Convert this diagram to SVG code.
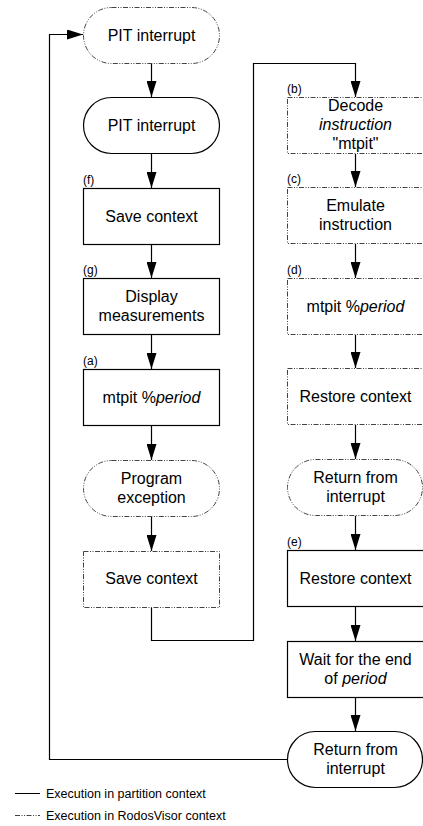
<svg xmlns="http://www.w3.org/2000/svg" width="423" height="826" viewBox="0 0 423 826">
<style>
.n{fill:#fff;stroke:#000;stroke-width:1.2}
.d{fill:#fff;stroke:#444;stroke-width:1;stroke-dasharray:5 1.5 1 1.5 1 1.5}
.t{font-family:"Liberation Sans",Arial,sans-serif;font-size:16px;text-anchor:middle;fill:#000}
.l{font-family:"Liberation Sans",Arial,sans-serif;font-size:12px;fill:#000}
.g{font-family:"Liberation Sans",Arial,sans-serif;font-size:12.5px;fill:#000}
.c{fill:none;stroke:#000;stroke-width:1.2}
</style>
<defs>
<marker id="a" markerWidth="16" markerHeight="10" refX="16" refY="5" orient="auto" markerUnits="userSpaceOnUse" viewBox="0 0 16 10">
<path d="M0,0 L16,5 L0,10 Z" fill="#000"/>
</marker>
</defs>
<g id="connectors">
<path class="c" d="M151.5,63 V97" marker-end="url(#a)"/>
<path class="c" d="M151.5,154 V188" marker-end="url(#a)"/>
<path class="c" d="M151.5,244 V278" marker-end="url(#a)"/>
<path class="c" d="M151.5,335 V369" marker-end="url(#a)"/>
<path class="c" d="M151.5,425 V460" marker-end="url(#a)"/>
<path class="c" d="M151.5,516 V551" marker-end="url(#a)"/>
<path class="c" d="M151.5,607 V640.5 H253.5 V63.5 H355.5 V97" marker-end="url(#a)"/>
<path class="c" d="M355.5,154 V187" marker-end="url(#a)"/>
<path class="c" d="M355.5,244 V278" marker-end="url(#a)"/>
<path class="c" d="M355.5,335 V368" marker-end="url(#a)"/>
<path class="c" d="M355.5,425 V459" marker-end="url(#a)"/>
<path class="c" d="M355.5,516 V550" marker-end="url(#a)"/>
<path class="c" d="M355.5,606 V641" marker-end="url(#a)"/>
<path class="c" d="M355.5,697 V731" marker-end="url(#a)"/>
<path class="c" d="M287,759.5 H49.5 V34.5 H83" marker-end="url(#a)"/>
</g>
<g id="pit1">
<rect class="d" x="83.5" y="7.5" width="136" height="56" rx="28"/>
<text class="t" x="151.5" y="41">PIT interrupt</text>
</g>
<g id="pit2">
<rect class="n" x="83.5" y="97.5" width="136" height="56" rx="28"/>
<text class="t" x="151.5" y="131">PIT interrupt</text>
</g>
<g id="f">
<text class="l" x="83" y="184">(f)</text>
<rect class="n" x="83.5" y="188.5" width="136" height="56"/>
<text class="t" x="151.5" y="222">Save context</text>
</g>
<g id="g">
<text class="l" x="83" y="274">(g)</text>
<rect class="n" x="83.5" y="278.5" width="136" height="56"/>
<text class="t" x="151.5" y="302">Display</text>
<text class="t" x="151.5" y="321">measurements</text>
</g>
<g id="a1">
<text class="l" x="83" y="365">(a)</text>
<rect class="n" x="83.5" y="369.5" width="136" height="56"/>
<text class="t" x="151.5" y="403">mtpit %<tspan font-style="italic">period</tspan></text>
</g>
<g id="progexc">
<rect class="d" x="83.5" y="460.5" width="136" height="56" rx="28"/>
<text class="t" x="151.5" y="484">Program</text>
<text class="t" x="151.5" y="503">exception</text>
</g>
<g id="save2">
<rect class="d" x="83.5" y="551.5" width="136" height="56"/>
<text class="t" x="151.5" y="584">Save context</text>
</g>
<g id="b">
<text class="l" x="287" y="93">(b)</text>
<rect class="d" x="287.5" y="97.5" width="137" height="56"/>
<text class="t" x="355.5" y="111">Decode</text>
<text class="t" x="355.5" y="130" font-style="italic">instruction</text>
<text class="t" x="355.5" y="149">"mtpit"</text>
</g>
<g id="c">
<text class="l" x="287" y="183">(c)</text>
<rect class="d" x="287.5" y="187.5" width="137" height="56"/>
<text class="t" x="355.5" y="211">Emulate</text>
<text class="t" x="355.5" y="230">instruction</text>
</g>
<g id="d">
<text class="l" x="287" y="274">(d)</text>
<rect class="d" x="287.5" y="278.5" width="137" height="56"/>
<text class="t" x="355.5" y="312">mtpit %<tspan font-style="italic">period</tspan></text>
</g>
<g id="restore1">
<rect class="d" x="287.5" y="368.5" width="137" height="56"/>
<text class="t" x="355.5" y="402">Restore context</text>
</g>
<g id="ret1">
<rect class="d" x="287.5" y="459.5" width="135" height="56" rx="28"/>
<text class="t" x="355.5" y="483">Return from</text>
<text class="t" x="355.5" y="502">interrupt</text>
</g>
<g id="e">
<text class="l" x="287" y="546">(e)</text>
<rect class="n" x="287.5" y="550.5" width="137" height="56"/>
<text class="t" x="355.5" y="584">Restore context</text>
</g>
<g id="wait">
<rect class="n" x="287.5" y="641.5" width="137" height="56"/>
<text class="t" x="355.5" y="665">Wait for the end</text>
<text class="t" x="355.5" y="684">of <tspan font-style="italic">period</tspan></text>
</g>
<g id="ret2">
<rect class="n" x="287.5" y="731.5" width="135" height="56" rx="28"/>
<text class="t" x="355.5" y="755">Return from</text>
<text class="t" x="355.5" y="774">interrupt</text>
</g>
<g id="legend">
<line x1="15" y1="793.5" x2="40" y2="793.5" stroke="#000" stroke-width="1"/>
<text class="g" x="46" y="797.5">Execution in partition context</text>
<line x1="15" y1="815.5" x2="40" y2="815.5" stroke="#444" stroke-width="1" stroke-dasharray="5 1.5 1 1.5 1 1.5"/>
<text class="g" x="46" y="819.5">Execution in RodosVisor context</text>
</g>
</svg>
